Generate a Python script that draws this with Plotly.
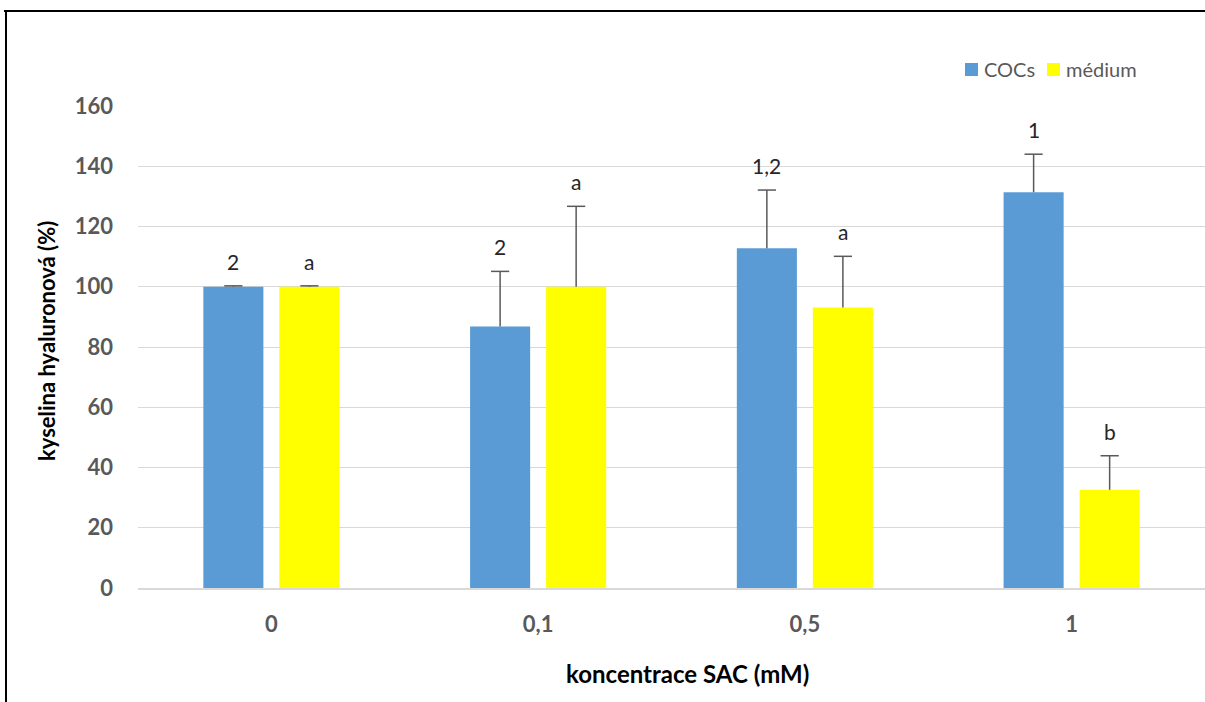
import plotly.graph_objects as go

categories = ["0", "0,1", "0,5", "1"]
cocs = [100, 86.8, 112.8, 131.4]
cocs_err = [0.3, 18.3, 19.3, 12.6]
medium = [100, 100, 93.1, 32.6]
medium_err = [0.3, 26.7, 17.0, 11.3]
cocs_labels = ["2", "2", "1,2", "1"]
medium_labels = ["a", "a", "a", "b"]

FONT = "Lato"
GRAY = "#595959"
BLUE = "#5B9BD5"
YELLOW = "#FFFF00"

BARGAP = 0.43
BARGROUPGAP = 0.21
slot = (1 - BARGAP) / 2
off = slot / 2  # center offset of each bar in its group

xs = list(range(len(categories)))

# plot-area pixel geometry (for paper-coordinate helpers)
W, H = 1205, 702
L, R, T, B = 138, 0, 106, 114
PW, PH = W - L - R, H - T - B


def px(x):
    return (x - L) / PW


def py(y):
    return (H - B - y) / PH


fig = go.Figure()
fig.add_trace(go.Bar(
    name="COCs", x=xs, y=cocs, marker_color=BLUE, marker_line_width=0,
    error_y=dict(type="data", array=cocs_err, symmetric=False, arrayminus=[0] * 4,
                 color=GRAY, thickness=1.5, width=0),
))
fig.add_trace(go.Bar(
    name="médium", x=xs, y=medium, marker_color=YELLOW, marker_line_width=0,
    error_y=dict(type="data", array=medium_err, symmetric=False, arrayminus=[0] * 4,
                 color=GRAY, thickness=1.5, width=0),
))
# error bar caps
fig.add_trace(go.Scatter(
    x=[i - off for i in xs] + [i + off for i in xs],
    y=[v + e for v, e in zip(cocs, cocs_err)] + [v + e for v, e in zip(medium, medium_err)],
    mode="markers", hoverinfo="skip",
    marker=dict(symbol="line-ew", size=13, line=dict(color=GRAY, width=1.5)),
))

annotations = []
for i, v, e, t in zip(xs, cocs, cocs_err, cocs_labels):
    annotations.append(dict(x=i - off, y=v + e, xref="x", yref="y", text=t, showarrow=False,
                            yshift=10, yanchor="bottom",
                            font=dict(family=FONT, size=21, color="#262626")))
for i, v, e, t in zip(xs, medium, medium_err, medium_labels):
    annotations.append(dict(x=i + off, y=v + e, xref="x", yref="y", text=t, showarrow=False,
                            yshift=10, yanchor="bottom",
                            font=dict(family=FONT, size=21, color="#262626")))

# axis titles
annotations.append(dict(x=px(687), y=py(673), xref="paper", yref="paper",
                        text="koncentrace SAC (mM)", showarrow=False,
                        xanchor="center", yanchor="middle",
                        font=dict(family=FONT, size=24, color="black", weight="bold")))
annotations.append(dict(x=px(46), y=py(341), xref="paper", yref="paper",
                        text="kyselina hyaluronová (%)", showarrow=False, textangle=-90,
                        xanchor="center", yanchor="middle",
                        font=dict(family=FONT, size=22, color="black", weight="bold")))

# legend (manual)
legend_items = [("COCs", BLUE, 965), ("médium", YELLOW, 1047)]
shapes = []
for name, col, x0 in legend_items:
    shapes.append(dict(type="rect", xref="paper", yref="paper",
                       x0=px(x0), x1=px(x0 + 13), y0=py(63), y1=py(76),
                       fillcolor=col, line=dict(width=0)))
    annotations.append(dict(x=px(x0 + 17), y=py(69), xref="paper", yref="paper",
                            text=name, showarrow=False, xanchor="left", yanchor="middle",
                            font=dict(family=FONT, size=20, color=GRAY)))

# outer frame
shapes += [
    dict(type="line", xref="paper", yref="paper",
         x0=px(4), x1=px(1210), y0=py(11), y1=py(11),
         line=dict(color="black", width=2)),
    dict(type="line", xref="paper", yref="paper",
         x0=px(6), x1=px(6), y0=py(11), y1=py(710),
         line=dict(color="black", width=2)),
]

fig.update_layout(
    width=W, height=H,
    margin=dict(l=L, r=R, t=T, b=B),
    paper_bgcolor="white", plot_bgcolor="white",
    barmode="group", bargap=BARGAP, bargroupgap=BARGROUPGAP,
    showlegend=False,
    annotations=annotations,
    shapes=shapes,
    font=dict(family=FONT),
)
fig.update_yaxes(range=[0, 160], dtick=20, showgrid=True, gridcolor="#D9D9D9", gridwidth=1,
                 zeroline=False, showline=False,
                 tickfont=dict(family=FONT, size=22, color=GRAY, weight="bold"),
                 ticklabelstandoff=24)
fig.update_xaxes(range=[-0.5, 3.5], tickvals=xs, ticktext=categories,
                 showline=True, linecolor="#D9D9D9", linewidth=1.5, showgrid=False,
                 zeroline=False,
                 tickfont=dict(family=FONT, size=22, color=GRAY, weight="bold"),
                 ticklabelstandoff=16)

fig.write_html("out.html", config={"displayModeBar": False},
               post_script="document.body.style.margin='0';document.body.style.overflow='hidden';")
